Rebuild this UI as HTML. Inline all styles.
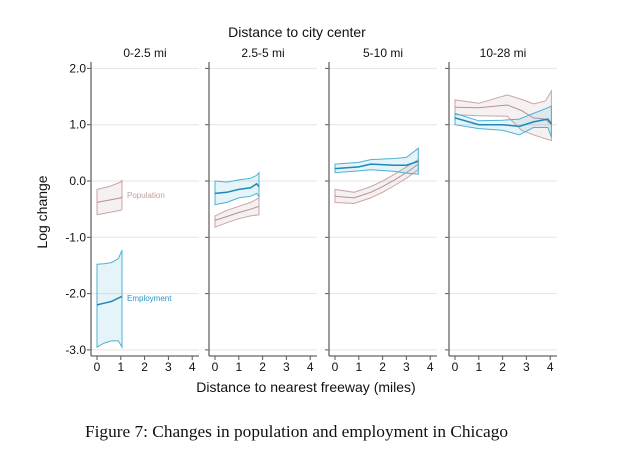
<!DOCTYPE html>
<html><head><meta charset="utf-8"><style>
body{margin:0;background:#fff;width:620px;height:466px;overflow:hidden}
svg text{font-family:"Liberation Sans",sans-serif}
</style></head><body>
<svg id="c" width="620" height="466"></svg>
<script>
const panelTitles=["0-2.5 mi","2.5-5 mi","5-10 mi","10-28 mi"];
const yTicks=[2,1,0,-1,-2,-3];
const yTickLabels=["2.0","1.0","0.0","-1.0","-2.0","-3.0"];
const xTicks=[0,1,2,3,4];
const popX=[[0,0.5,1,1.05],[0,0.5,1,1.5,1.85],[0,0.8,1.5,2,2.5,3,3.5],[0,1,2.2,2.8,3.3,3.8,4.05]];
const popMean=[[-0.38,-0.34,-0.3,-0.28],[-0.7,-0.63,-0.56,-0.5,-0.45],[-0.27,-0.3,-0.2,-0.1,0.02,0.15,0.3],[1.31,1.3,1.35,1.25,1.12,1.1,1.0]];
const popUp=[[-0.15,-0.1,-0.02,0.02],[-0.62,-0.52,-0.45,-0.38,-0.3],[-0.15,-0.2,-0.1,0,0.12,0.25,0.38],[1.44,1.38,1.53,1.45,1.37,1.42,1.6]];
const popLo=[[-0.6,-0.56,-0.52,-0.5],[-0.82,-0.74,-0.67,-0.62,-0.6],[-0.38,-0.4,-0.3,-0.2,-0.08,0.05,0.2],[1.18,1.16,1.15,0.9,0.82,0.75,0.72]];
const empX=[[0,0.3,0.6,0.9,1.05],[0,0.5,1,1.5,1.75,1.85],[0,1,1.5,2.5,3,3.5],[0,1,2,2.7,3.3,3.9,4.05]];
const empMean=[[-2.2,-2.17,-2.14,-2.08,-2.05],[-0.22,-0.2,-0.15,-0.12,-0.05,-0.1],[0.22,0.25,0.3,0.28,0.28,0.35],[1.12,1.0,1.0,0.97,1.05,1.1,1.02]];
const empUp=[[-1.48,-1.47,-1.45,-1.38,-1.23],[0,-0.02,0.02,0.05,0.1,0.15],[0.3,0.33,0.38,0.4,0.42,0.58],[1.2,1.07,1.08,1.1,1.2,1.3,1.33]];
const empLo=[[-2.95,-2.88,-2.84,-2.84,-2.95],[-0.42,-0.38,-0.3,-0.27,-0.22,-0.28],[0.15,0.18,0.2,0.17,0.14,0.12],[1.0,0.93,0.9,0.82,0.95,0.95,0.78]];
const axisX=[91,209,329,449];
const NS="http://www.w3.org/2000/svg";
const svg=document.getElementById('c');
function el(t,a,p){const e=document.createElementNS(NS,t);for(const k in a)e.setAttribute(k,a[k]);(p||svg).appendChild(e);return e;}
const yS=v=>181-v*56.3;
const xS=(p,m)=>axisX[p]+6+m*23.8;
function line(p,xs,ys){return xs.map((x,i)=>(i?'L':'M')+xS(p,x).toFixed(1)+','+yS(ys[i]).toFixed(1)).join('');}
function band(p,xs,up,lo){let d=line(p,xs,up);for(let i=xs.length-1;i>=0;i--)d+='L'+xS(p,xs[i]).toFixed(1)+','+yS(lo[i]).toFixed(1);return d+'Z';}
let t=el('text',{x:297,y:37,'font-size':14,'text-anchor':'middle',fill:'#111'});t.textContent="Distance to city center";

for(let p=0;p<4;p++){
  const g=el('g',{});
  
  
  const tt=el('text',{x:axisX[p]+54,y:57,'font-size':12,'text-anchor':'middle',fill:'#111'},g);tt.textContent=panelTitles[p];
  
  yTicks.forEach((v,i)=>{
    el('line',{x1:axisX[p],x2:axisX[p]+108,y1:yS(v),y2:yS(v),stroke:'#e4e4e4','stroke-width':1},g);
    el('line',{x1:axisX[p]-4,x2:axisX[p],y1:yS(v),y2:yS(v),stroke:'#555','stroke-width':1},g);
    if(p==0){const l=el('text',{x:86,y:yS(v)+4,'font-size':12,'text-anchor':'end',fill:'#111'},g);l.textContent=yTickLabels[i];
      }
  });
  el('line',{x1:axisX[p],x2:axisX[p],y1:62,y2:356,stroke:'#666','stroke-width':1.3},g);
  el('line',{x1:axisX[p],x2:axisX[p]+108,y1:356,y2:356,stroke:'#666','stroke-width':1.3},g);
  xTicks.forEach(m=>{
    el('line',{x1:xS(p,m),x2:xS(p,m),y1:356,y2:360,stroke:'#555'},g);
    const l=el('text',{x:xS(p,m),y:371,'font-size':12,'text-anchor':'middle',fill:'#111'},g);l.textContent=m;
    
  });
  const pb=el('path',{d:band(p,popX[p],popUp[p],popLo[p]),fill:'rgba(190,160,160,0.15)',stroke:'#c9a5a5','stroke-width':1},g);
  
  const pl=el('path',{d:line(p,popX[p],popMean[p]),fill:'none',stroke:'#b89090','stroke-width':1},g);
  
  const eb=el('path',{d:band(p,empX[p],empUp[p],empLo[p]),fill:'rgba(80,180,215,0.15)',stroke:'#4fb0d2','stroke-width':1},g);
  
  const en=el('path',{d:line(p,empX[p],empMean[p]),fill:'none',stroke:'#1f88b8','stroke-width':1.5},g);
  
}
let a=el('text',{x:127,y:198,'font-size':8,fill:'#c0a0a0'});a.textContent="Population";

a=el('text',{x:127,y:301,'font-size':8,fill:'#2a95c5'});a.textContent="Employment";

a=el('text',{x:47,y:212,'font-size':14,'text-anchor':'middle',fill:'#111',transform:'rotate(-90 47 212)'});a.textContent="Log change";

a=el('text',{x:306,y:392,'font-size':14,'text-anchor':'middle',fill:'#111'});a.textContent="Distance to nearest freeway (miles)";

a=el('text',{x:85,y:437,'font-size':17,fill:'#111',textLength:423,lengthAdjust:'spacingAndGlyphs',style:'font-family:"Liberation Serif",serif'});a.textContent="Figure 7: Changes in population and employment in Chicago";

</script>
</body></html>
